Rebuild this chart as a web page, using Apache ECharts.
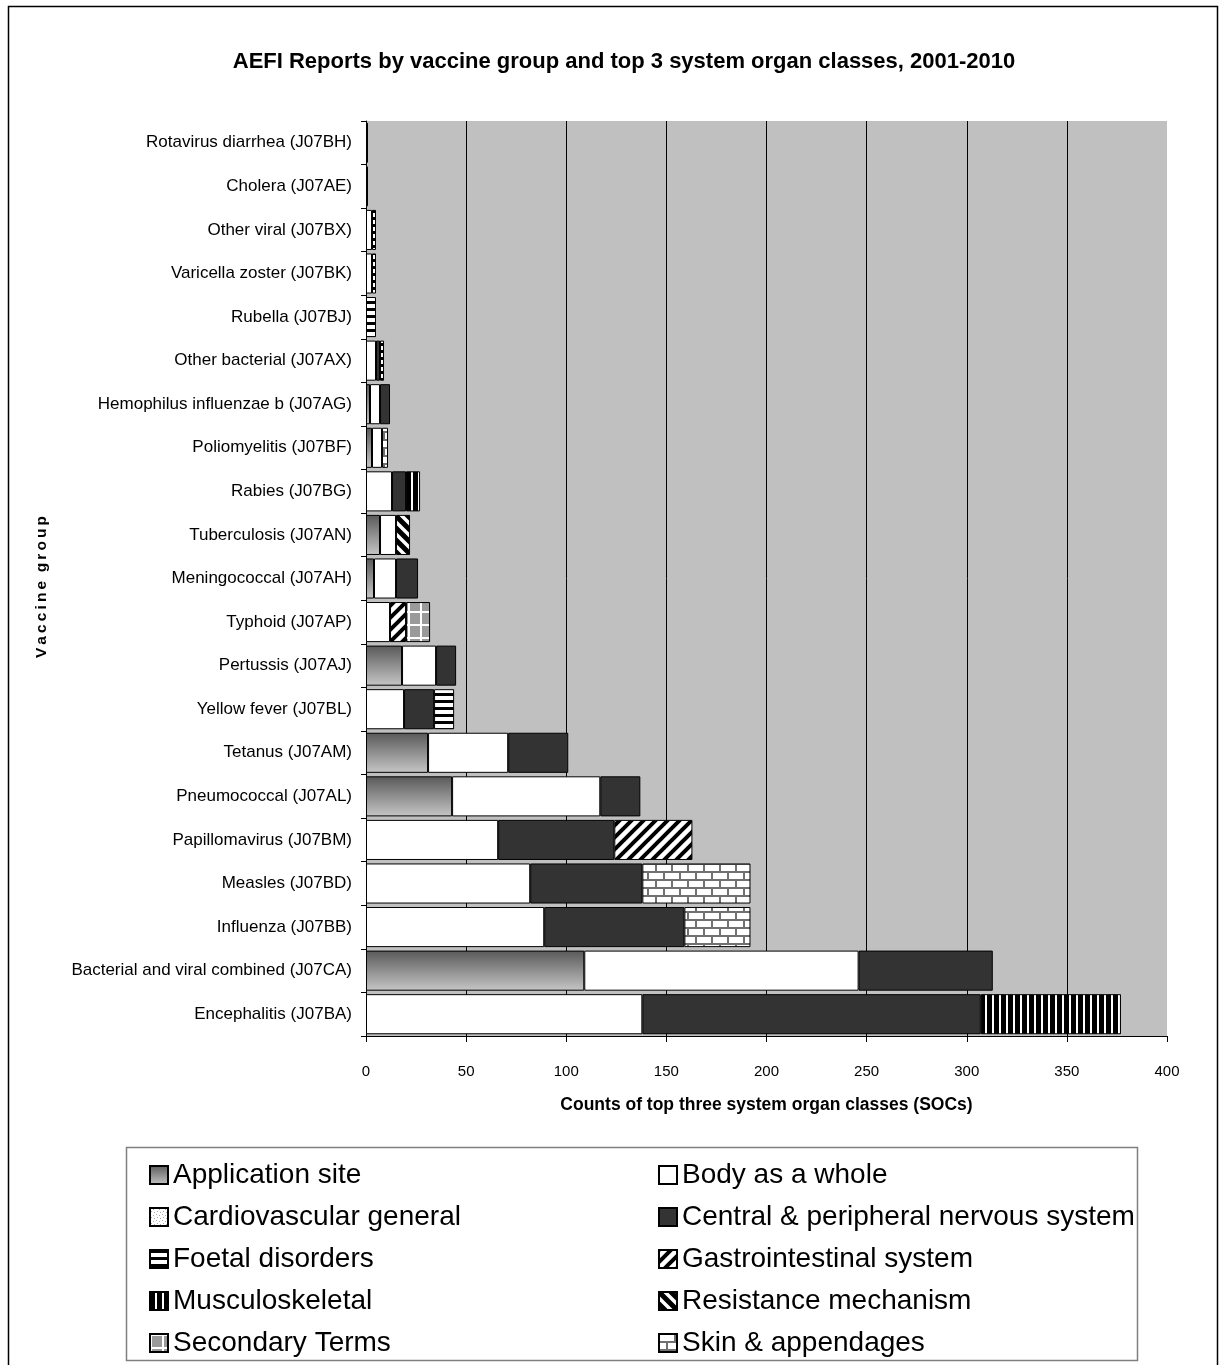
<!DOCTYPE html>
<html>
<head>
<meta charset="utf-8">
<style>
  html, body { margin: 0; padding: 0; background: #ffffff; }
  #chart { width: 1220px; height: 1365px; }
</style>
<script src="https://cdn.jsdelivr.net/npm/echarts@6/dist/echarts.min.js"></script>
</head>
<body>
<div id="chart"></div>
<script>
// Vaccine groups, listed top to bottom as drawn
const vaccineGroups = [
  'Rotavirus diarrhea (J07BH)',
  'Cholera (J07AE)',
  'Other viral (J07BX)',
  'Varicella zoster (J07BK)',
  'Rubella (J07BJ)',
  'Other bacterial (J07AX)',
  'Hemophilus influenzae b (J07AG)',
  'Poliomyelitis (J07BF)',
  'Rabies (J07BG)',
  'Tuberculosis (J07AN)',
  'Meningococcal (J07AH)',
  'Typhoid (J07AP)',
  'Pertussis (J07AJ)',
  'Yellow fever (J07BL)',
  'Tetanus (J07AM)',
  'Pneumococcal (J07AL)',
  'Papillomavirus (J07BM)',
  'Measles (J07BD)',
  'Influenza (J07BB)',
  'Bacterial and viral combined (J07CA)',
  'Encephalitis (J07BA)'
];

// Counts per system organ class, same order as vaccineGroups
const applicationSite   = [0, 0, 0, 0, 0, 0, 2, 3, 0, 7, 4, 0, 18, 0, 31, 43, 0, 0, 0, 109, 0];
const bodyAsAWhole      = [0, 0, 3, 3, 0, 5, 5, 5, 13, 8, 11, 12, 17, 19, 40, 74, 66, 82, 89, 137, 138];
const cardiovascular    = [1, 0, 0, 0, 0, 0, 0, 0, 0, 0, 0, 0, 0, 0, 0, 0, 0, 0, 0, 0, 0];
const nervousSystem     = [0, 0, 0, 0, 0, 2, 5, 0, 7, 0, 11, 0, 10, 15, 30, 20, 58, 56, 70, 67, 169];
const foetalDisorders   = [0, 0, 2, 2, 5, 2, 0, 0, 0, 0, 0, 0, 0, 10, 0, 0, 0, 0, 0, 0, 0];
const gastrointestinal  = [0, 1, 0, 0, 0, 0, 0, 0, 0, 0, 0, 8, 0, 0, 0, 0, 39, 0, 0, 0, 0];
const musculoskeletal   = [0, 0, 0, 0, 0, 0, 0, 0, 7, 0, 0, 0, 0, 0, 0, 0, 0, 0, 0, 0, 70];
const resistance        = [0, 0, 0, 0, 0, 0, 0, 0, 0, 7, 0, 0, 0, 0, 0, 0, 0, 0, 0, 0, 0];
const secondaryTerms    = [0, 0, 0, 0, 0, 0, 0, 0, 0, 0, 0, 12, 0, 0, 0, 0, 0, 0, 0, 0, 0];
const skinAppendages    = [0, 0, 0, 0, 0, 0, 0, 3, 0, 0, 0, 0, 0, 0, 0, 0, 0, 54, 33, 0, 0];

const xTicks = [0, 50, 100, 150, 200, 250, 300, 350, 400];

const FONT = '"Liberation Sans", Arial, Helvetica, sans-serif';

// Small repeating canvas tiles used as bar fills
function tile(w, h, draw) {
  const c = document.createElement('canvas');
  c.width = w; c.height = h;
  const g = c.getContext('2d');
  draw(g, w, h);
  return { image: c, repeat: 'repeat' };
}

const fills = {
  application: {
    type: 'linear', x: 0, y: 0, x2: 0, y2: 1,
    colorStops: [{ offset: 0, color: '#595959' }, { offset: 1, color: '#c6c6c6' }]
  },
  body: '#ffffff',
  cardio: tile(6, 6, (g) => {
    g.fillStyle = '#ffffff'; g.fillRect(0, 0, 6, 6);
    g.fillStyle = '#a8a8a8';
    g.fillRect(0, 0, 1, 1); g.fillRect(3, 1, 1, 1); g.fillRect(1, 3, 1, 1); g.fillRect(4, 4, 1, 1);
  }),
  nervous: '#333333',
  foetal: tile(4, 7, (g) => {
    g.fillStyle = '#ffffff'; g.fillRect(0, 0, 4, 7);
    g.fillStyle = '#000000'; g.fillRect(0, 0, 4, 3);
  }),
  gastro: tile(12, 12, (g) => {
    g.fillStyle = '#ffffff'; g.fillRect(0, 0, 12, 12);
    g.strokeStyle = '#000000'; g.lineWidth = 4;
    g.beginPath();
    g.moveTo(-2, 14); g.lineTo(14, -2);
    g.moveTo(-8, 8); g.lineTo(8, -8);
    g.moveTo(4, 20); g.lineTo(20, 4);
    g.stroke();
  }),
  musculo: tile(7, 4, (g) => {
    g.fillStyle = '#ffffff'; g.fillRect(0, 0, 7, 4);
    g.fillStyle = '#000000'; g.fillRect(0, 0, 5, 4);
  }),
  resistance: tile(12, 12, (g) => {
    g.fillStyle = '#ffffff'; g.fillRect(0, 0, 12, 12);
    g.strokeStyle = '#000000'; g.lineWidth = 5;
    g.beginPath();
    g.moveTo(-2, -2); g.lineTo(14, 14);
    g.moveTo(-8, 4); g.lineTo(8, 20);
    g.moveTo(4, -8); g.lineTo(20, 8);
    g.stroke();
  }),
  secondary: tile(12, 13, (g) => {
    g.fillStyle = '#9a9a9a'; g.fillRect(0, 0, 12, 13);
    g.fillStyle = '#ffffff';
    g.fillRect(0, 0, 2, 13); g.fillRect(0, 0, 12, 2);
  }),
  skin: tile(16, 16, (g) => {
    g.fillStyle = '#707070'; g.fillRect(0, 0, 16, 16);
    g.fillStyle = '#ffffff';
    g.fillRect(1, 1, 14, 6);
    g.fillRect(0, 9, 7, 6);
    g.fillRect(9, 9, 7, 6);
  })
};

const seriesDefs = [
  ['Application site', applicationSite, fills.application],
  ['Body as a whole', bodyAsAWhole, fills.body],
  ['Cardiovascular general', cardiovascular, fills.cardio],
  ['Central & peripheral nervous system', nervousSystem, fills.nervous],
  ['Foetal disorders', foetalDisorders, fills.foetal],
  ['Gastrointestinal system', gastrointestinal, fills.gastro],
  ['Musculoskeletal', musculoskeletal, fills.musculo],
  ['Resistance mechanism', resistance, fills.resistance],
  ['Secondary Terms', secondaryTerms, fills.secondary],
  ['Skin & appendages', skinAppendages, fills.skin]
];

const series = seriesDefs.map(([name, values, fill]) => ({
  name: name,
  type: 'bar',
  stack: 'soc',
  barCategoryGap: '8%',
  data: values.map(v => (v === 0 ? null : v)),
  itemStyle: { color: fill, borderColor: '#000000', borderWidth: 1 },
  emphasis: { disabled: true },
  animation: false
}));

const legendLeftNames = seriesDefs.filter((d, i) => i % 2 === 0).map(d => d[0]);
const legendRightNames = seriesDefs.filter((d, i) => i % 2 === 1).map(d => d[0]);

const legendCommon = {
  orient: 'vertical',
  top: 1159,
  height: 203,
  padding: 0,
  itemWidth: 18,
  itemHeight: 18,
  itemGap: 10,
  icon: 'rect',
  selectedMode: false,
  textStyle: { fontFamily: FONT, fontSize: 28, color: '#000000', lineHeight: 32 }
};

const chart = echarts.init(document.getElementById('chart'), null, { renderer: 'canvas' });

chart.setOption({
  backgroundColor: '#ffffff',
  animation: false,
  title: {
    text: 'AEFI Reports by vaccine group and top 3 system organ classes, 2001-2010',
    left: 619,
    top: 46,
    textAlign: 'center',
    textStyle: { fontFamily: FONT, fontSize: 22, fontWeight: 'bold', color: '#000000' }
  },
  graphic: [
    {
      type: 'rect',
      shape: { x: 8.5, y: 6.5, width: 1209, height: 1400 },
      style: { fill: 'none', stroke: '#000000', lineWidth: 1.5 },
      silent: true
    },
    {
      type: 'rect',
      shape: { x: 126.5, y: 1147.5, width: 1011, height: 213 },
      style: { fill: 'none', stroke: '#7f7f7f', lineWidth: 1.5 },
      silent: true
    },
    {
      // vertical axis title, letter-spaced
      type: 'text',
      x: 42,
      y: 587,
      rotation: Math.PI / 2,
      silent: true,
      style: {
        text: 'V\u2009a\u2009c\u2009c\u2009i\u2009n\u2009e  g\u2009r\u2009o\u2009u\u2009p',
        font: 'bold 15.5px ' + FONT,
        fill: '#000000',
        align: 'center',
        verticalAlign: 'middle'
      }
    }
  ],
  legend: [
    Object.assign({ left: 149, data: legendLeftNames }, legendCommon),
    Object.assign({ left: 658, data: legendRightNames }, legendCommon)
  ],
  grid: {
    left: 366,
    right: 53,
    top: 121,
    bottom: 329,
    show: true,
    backgroundColor: '#c0c0c0',
    borderWidth: 0
  },
  xAxis: {
    type: 'value',
    min: xTicks[0],
    max: xTicks[xTicks.length - 1],
    interval: xTicks[1] - xTicks[0],
    name: 'Counts of top three system organ classes (SOCs)',
    nameLocation: 'middle',
    nameGap: 60,
    nameTextStyle: { fontFamily: FONT, fontSize: 17.5, fontWeight: 'bold', color: '#000000' },
    axisLine: { show: true, lineStyle: { color: '#000000', width: 1 } },
    axisTick: { show: true, length: 6, lineStyle: { color: '#000000' } },
    axisLabel: { margin: 28, fontFamily: FONT, fontSize: 15, color: '#000000' },
    splitLine: { show: true, showMaxLine: false, lineStyle: { color: '#000000', width: 1 } }
  },
  yAxis: {
    type: 'category',
    inverse: true,
    data: vaccineGroups,
    axisLine: { show: true, lineStyle: { color: '#000000', width: 1 } },
    axisTick: { show: true, length: 5, lineStyle: { color: '#000000' } },
    axisLabel: { margin: 14, fontFamily: FONT, fontSize: 17, color: '#000000' },
    splitLine: { show: false }
  },
  series: series
});
</script>
</body>
</html>
